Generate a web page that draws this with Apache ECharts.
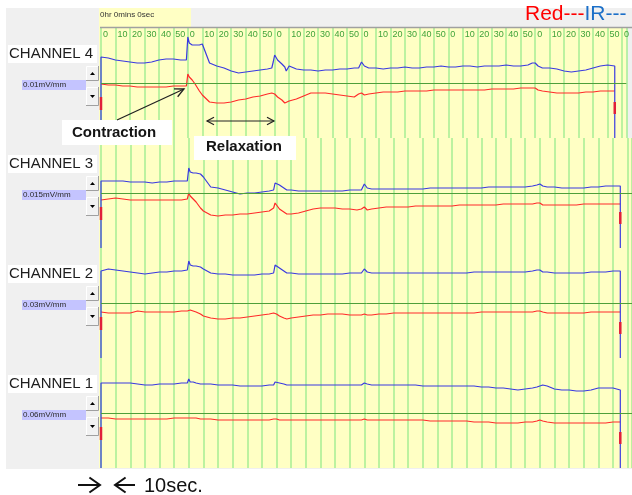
<!DOCTYPE html>
<html>
<head>
<meta charset="utf-8">
<script src="https://cdn.jsdelivr.net/npm/echarts@6/dist/echarts.min.js"></script>
<style>
  html, body { margin: 0; padding: 0; background: #ffffff; }
  #chart { width: 632px; height: 495px; }
</style>
</head>
<body>
<div id="chart"></div>
<script>
// Sample times (seconds from start of recording)
const timeSec = [
  0, 5, 10, 15, 20, 25, 30, 35, 40, 45, 50, 55,
  59, 60, 61, 63, 65, 68, 70,
  75, 80, 85, 90, 95, 100, 105, 110, 115,
  118, 119, 120, 122, 125, 127, 128, 130,
  135, 140, 145, 150, 155, 160, 165, 170, 175,
  178, 180, 182, 185,
  190, 195, 200, 205, 210, 215, 220, 225, 230, 235, 240, 245, 250, 255, 260, 265, 270, 275, 280, 285, 290, 295,
  298, 300, 302, 305,
  310, 315, 320, 325, 330, 335, 340, 345, 350, 355
];

// Channel 4 traces (deflection from channel baseline)
const ch4Ir = [
  26, 25, 23, 22, 21, 20, 20, 21, 23, 24, 24, 23,
  23, 46, 40, 38, 38, 38, 39,
  20, 17, 15, 12, 10, 11, 12, 13, 14,
  15, 21, 28, 23, 19, 16, 12, 17,
  14, 13, 13, 12, 13, 13, 14, 14, 15,
  15, 21, 17, 15,
  15, 14, 15, 15, 16, 15, 15, 16, 16, 17, 16, 16, 17, 17, 16, 17, 17, 17, 18, 17, 17, 18,
  20, 20, 17, 15,
  15, 14, 12, 11, 12, 13, 15, 17, 18, 17
];
const ch4Red = [
  -1, -2, -2, -3, -3, -4, -4, -4, -4, -4, -3, -3,
  -3, 9, 6, 3, -1, -8, -12,
  -19, -20, -20, -19, -17, -16, -14, -13, -11,
  -10, -9, -11, -14, -17, -20, -20, -18,
  -16, -13, -10, -10, -10, -11, -12, -13, -14,
  -11, -10, -12, -11,
  -10, -9, -9, -9, -8, -8, -8, -8, -7, -7, -7, -7, -7, -7, -7, -7, -6, -6, -6, -6, -5, -5,
  -5, -5, -7, -8,
  -9, -10, -10, -10, -10, -9, -9, -8, -8, -8
];

// Channel 3 traces
const ch3Ir = [
  12, 12, 12, 12, 11, 11, 11, 10, 11, 11, 12, 12,
  12, 25, 21, 20, 20, 19, 16,
  6, 5, 3, 1, -1, 0, 0, 1, 2,
  3, 10, 12, 8, 5, 3, 5, 3,
  2, 2, 2, 2, 2, 2, 2, 3, 3,
  3, 9, 5, 4,
  4, 4, 4, 4, 4, 4, 4, 5, 5, 5, 5, 5, 5, 5, 5, 6, 6, 6, 6, 6, 6, 7,
  8, 9, 7, 6,
  6, 5, 5, 5, 5, 6, 6, 7, 7, 7
];
const ch3Red = [
  -7, -6, -5, -6, -7, -7, -7, -7, -7, -7, -7, -7,
  -6, 0, -3, -6, -9, -15, -18,
  -22, -23, -22, -22, -21, -21, -20, -19, -18,
  -15, -10, -12, -16, -19, -21, -22, -21,
  -20, -18, -16, -15, -15, -15, -16, -16, -17,
  -16, -14, -17, -16,
  -15, -14, -14, -14, -14, -13, -13, -13, -13, -13, -13, -12, -12, -12, -12, -12, -12, -11, -11, -11, -11, -11,
  -10, -10, -12, -12,
  -12, -12, -12, -12, -11, -11, -11, -11, -11, -11
];

// Channel 2 traces
const ch2Ir = [
  32, 34, 33, 32, 31, 30, 29, 30, 31, 31, 32, 32,
  33, 42, 38, 37, 37, 36, 34,
  30, 29, 29, 28, 28, 28, 28, 29, 29,
  30, 38, 40, 35, 32, 30, 29, 30,
  29, 29, 29, 29, 29, 29, 29, 30, 30,
  30, 34, 31, 30,
  30, 30, 30, 30, 30, 30, 30, 30, 30, 30, 30, 30, 30, 31, 31, 31, 31, 31, 31, 31, 31, 32,
  33, 33, 31, 31,
  30, 30, 30, 30, 30, 31, 31, 31, 32, 32
];
const ch2Red = [
  -9, -10, -10, -10, -10, -8, -9, -9, -9, -9, -9, -8,
  -8, -6, -7, -8, -9, -11, -13,
  -15, -16, -16, -15, -15, -14, -13, -12, -11,
  -10, -9, -11, -13, -15, -16, -16, -15,
  -14, -13, -12, -12, -11, -11, -11, -12, -12,
  -12, -11, -12, -12,
  -11, -11, -10, -10, -10, -10, -10, -10, -10, -10, -10, -10, -10, -10, -9, -9, -9, -9, -9, -9, -9, -9,
  -8, -8, -9, -10,
  -10, -10, -10, -10, -10, -9, -9, -9, -9, -9
];

// Channel 1 traces
const ch1Ir = [
  30, 30, 30, 30, 30, 29, 28, 28, 29, 29, 29, 30,
  30, 34, 31, 31, 30, 29, 29,
  29, 28, 28, 28, 27, 27, 27, 27, 28,
  28, 31, 32, 30, 29, 28, 28, 28,
  28, 28, 28, 28, 28, 28, 28, 28, 28,
  28, 30, 29, 28,
  28, 28, 28, 28, 28, 28, 27, 27, 27, 27, 27, 27, 27, 27, 26, 26, 25, 25, 24, 23, 24, 25,
  26, 27, 28, 27,
  24, 23, 23, 22, 22, 23, 25, 25, 25, 23
];
const ch1Red = [
  -5, -5, -6, -6, -6, -6, -6, -6, -6, -6, -5, -5,
  -5, -4, -5, -5, -5, -6, -6,
  -6, -7, -7, -7, -7, -7, -7, -7, -7,
  -6, -5, -6, -7, -7, -7, -7, -7,
  -7, -7, -7, -7, -7, -7, -7, -7, -7,
  -7, -6, -7, -7,
  -7, -7, -7, -7, -7, -7, -7, -8, -8, -8, -8, -8, -8, -9, -9, -9, -10, -10, -10, -10, -9, -9,
  -8, -7, -8, -9,
  -10, -10, -10, -10, -10, -10, -10, -10, -9, -9
];

// Red pen markers at start and end of sweep
const penMarkStart = [-14, -27];
const penMarkEnd = [-19, -31];

const channelNames = ['CHANNEL 4', 'CHANNEL 3', 'CHANNEL 2', 'CHANNEL 1'];
const channelScales = ['0.01mV/mm', '0.015mV/mm', '0.03mV/mm', '0.06mV/mm'];
const irTraces = [ch4Ir, ch3Ir, ch2Ir, ch1Ir];
const redTraces = [ch4Red, ch3Red, ch2Red, ch1Red];

// Display geometry
const PLOT_LEFT = 101, PLOT_TOP = 28, STRIP_H = 110;
const Y_MIN = -55, Y_MAX = 55;
const X_MAX = 363;

const IR_COLOR = '#3a3ae0';
const RED_COLOR = '#ff2a2a';
const GRID_GREEN = '#a6ee94';
const BASE_GREEN = '#4f9f3a';

const chart = echarts.init(document.getElementById('chart'), null, { renderer: 'canvas' });

const grids = [], xAxes = [], yAxes = [], series = [];
const lastT = timeSec[timeSec.length - 1];

channelNames.forEach((name, i) => {
  grids.push({
    left: PLOT_LEFT, width: 632 - PLOT_LEFT, top: PLOT_TOP + i * STRIP_H, height: STRIP_H,
    show: true, backgroundColor: '#ffffc4', borderWidth: 0
  });
  xAxes.push({
    gridIndex: i, type: 'value', min: 0, max: X_MAX, interval: 10,
    position: 'top',
    axisLine: { show: false }, axisTick: { show: false },
    splitLine: { show: true, lineStyle: { color: GRID_GREEN, width: 1.5 } },
    axisLabel: i === 0 ? {
      show: true, inside: true, margin: 2, align: 'left', padding: [0, 0, 0, 2],
      color: '#3fa33a', fontSize: 9, fontFamily: 'Liberation Sans',
      formatter: v => String(v % 60)
    } : { show: false }
  });
  yAxes.push({
    gridIndex: i, type: 'value', min: Y_MIN, max: Y_MAX,
    axisLine: { show: false }, axisTick: { show: false },
    axisLabel: { show: false }, splitLine: { show: false }
  });

  const redData = timeSec.map((t, k) => [t, redTraces[i][k]]);
  series.push({
    type: 'line', xAxisIndex: i, yAxisIndex: i, data: redData,
    symbol: 'none', z: 3,
    lineStyle: { color: RED_COLOR, width: 1.2 },
    markLine: {
      silent: true, symbol: 'none', label: { show: false },
      lineStyle: { color: BASE_GREEN, width: 1, type: 'solid' },
      data: [{ yAxis: 0 }]
    }
  });

  // IR sweep: pen rises from the strip floor and returns there at the end
  const irData = [[0, Y_MIN]].concat(timeSec.map((t, k) => [t, irTraces[i][k]]), [[lastT, Y_MIN]]);
  series.push({
    type: 'line', xAxisIndex: i, yAxisIndex: i, data: irData,
    symbol: 'none', z: 4,
    lineStyle: { color: IR_COLOR, width: 1.2 }
  });

  series.push({
    type: 'line', xAxisIndex: i, yAxisIndex: i,
    data: [[0, penMarkStart[0]], [0, penMarkStart[1]]],
    symbol: 'none', z: 5, lineStyle: { color: '#e0203a', width: 2.5 }
  });
  series.push({
    type: 'line', xAxisIndex: i, yAxisIndex: i,
    data: [[lastT, penMarkEnd[0]], [lastT, penMarkEnd[1]]],
    symbol: 'none', z: 5, lineStyle: { color: '#e0203a', width: 2.5 }
  });
});

// Side panel, header and annotation graphics
const g = [];
g.push({ type: 'rect', z: -10, shape: { x: 6, y: 8, width: 626, height: 461 }, style: { fill: '#f0f0f0' } });
g.push({ type: 'rect', z: -9, shape: { x: 99, y: 28, width: 3, height: 440 }, style: { fill: '#ffffc4' } });
g.push({ type: 'rect', z: 1, shape: { x: 99, y: 8, width: 92, height: 20 }, style: { fill: '#ffffc4' } });
g.push({ type: 'text', z: 2, x: 100, y: 15, style: { text: '0hr 0mins 0sec', fill: '#333', font: '8px "Liberation Sans"', textVerticalAlign: 'middle' } });
g.push({ type: 'line', z: 2, shape: { x1: 100, y1: 27.5, x2: 632, y2: 27.5 }, style: { stroke: '#a0a0a0', lineWidth: 1.5 } });

g.push({
  type: 'text', z: 2, x: 525, y: 14,
  style: {
    text: '{r|Red---}{b|IR---}', textVerticalAlign: 'middle',
    rich: {
      r: { fill: '#ff0000', font: '21px "Liberation Sans"' },
      b: { fill: '#1b6fc8', font: '21px "Liberation Sans"' }
    }
  }
});

channelNames.forEach((name, i) => {
  const b = PLOT_TOP + i * STRIP_H + STRIP_H / 2;
  g.push({ type: 'rect', z: 1, shape: { x: 8, y: b - 38, width: 89, height: 18 }, style: { fill: '#ffffff' } });
  g.push({ type: 'text', z: 2, x: 9, y: b - 29, style: { text: name, fill: '#1e1e1e', font: '15px "Liberation Sans"', textVerticalAlign: 'middle' } });
  g.push({ type: 'rect', z: 1, shape: { x: 22, y: b - 3, width: 64, height: 10 }, style: { fill: '#c4c4ff' } });
  g.push({ type: 'text', z: 2, x: 23, y: b + 2, style: { text: channelScales[i], fill: '#2a2a2a', font: '8px "Liberation Sans"', textVerticalAlign: 'middle' } });
  // spinner buttons
  [[b - 17, 15, 'up'], [b + 4, 19, 'down']].forEach(([y0, h, dir]) => {
    g.push({ type: 'rect', z: 1, shape: { x: 86, y: y0, width: 12, height: h }, style: { fill: '#f2f2f2' } });
    g.push({ type: 'polyline', z: 2, shape: { points: [[86.5, y0 + h], [86.5, y0 + 0.5], [98, y0 + 0.5]] }, style: { stroke: '#ffffff', lineWidth: 1, fill: null } });
    g.push({ type: 'polyline', z: 2, shape: { points: [[86, y0 + h - 0.5], [98.5, y0 + h - 0.5], [98.5, y0]] }, style: { stroke: '#a0a0a0', lineWidth: 1, fill: null } });
    const cy = y0 + h / 2;
    const pts = dir === 'up' ? [[90, cy + 1.5], [95, cy + 1.5], [92.5, cy - 1.5]] : [[90, cy - 1.5], [95, cy - 1.5], [92.5, cy + 1.5]];
    g.push({ type: 'polygon', z: 2, shape: { points: pts }, style: { fill: '#000' } });
  });
});

function arrowHead(x, y, ang, len, spread) {
  return [
    [x - len * Math.cos(ang - spread), y - len * Math.sin(ang - spread)],
    [x, y],
    [x - len * Math.cos(ang + spread), y - len * Math.sin(ang + spread)]
  ];
}

// Contraction label and pointer
g.push({ type: 'rect', z: 6, shape: { x: 62, y: 120, width: 110, height: 25 }, style: { fill: '#ffffff' } });
g.push({ type: 'text', z: 7, x: 72, y: 133, style: { text: 'Contraction', fill: '#141414', font: 'bold 15px "Liberation Sans"', textVerticalAlign: 'middle' } });
{
  const x1 = 117, y1 = 120, x2 = 184, y2 = 89;
  const ang = Math.atan2(y2 - y1, x2 - x1);
  g.push({ type: 'line', z: 6, shape: { x1, y1, x2, y2 }, style: { stroke: '#222', lineWidth: 1.3 } });
  g.push({ type: 'polyline', z: 6, shape: { points: arrowHead(x2, y2, ang, 10, 0.45) }, style: { stroke: '#222', lineWidth: 1.3, fill: null } });
}

// Relaxation label and span arrow
g.push({ type: 'rect', z: 6, shape: { x: 194, y: 136, width: 102, height: 24 }, style: { fill: '#ffffff' } });
g.push({ type: 'text', z: 7, x: 206, y: 147, style: { text: 'Relaxation', fill: '#141414', font: 'bold 15px "Liberation Sans"', textVerticalAlign: 'middle' } });
g.push({ type: 'line', z: 6, shape: { x1: 207, y1: 121, x2: 274, y2: 121 }, style: { stroke: '#222', lineWidth: 1.2 } });
g.push({ type: 'polyline', z: 6, shape: { points: arrowHead(274, 121, 0, 8, 0.5) }, style: { stroke: '#222', lineWidth: 1.2, fill: null } });
g.push({ type: 'polyline', z: 6, shape: { points: arrowHead(207, 121, Math.PI, 8, 0.5) }, style: { stroke: '#222', lineWidth: 1.2, fill: null } });

// 10-second scale marker below the plot
g.push({ type: 'line', z: 2, shape: { x1: 78, y1: 485, x2: 99, y2: 485 }, style: { stroke: '#111', lineWidth: 2 } });
g.push({ type: 'polyline', z: 2, shape: { points: arrowHead(100, 485, 0, 13, 0.62) }, style: { stroke: '#111', lineWidth: 2, fill: null } });
g.push({ type: 'line', z: 2, shape: { x1: 116, y1: 485, x2: 135, y2: 485 }, style: { stroke: '#111', lineWidth: 2 } });
g.push({ type: 'polyline', z: 2, shape: { points: arrowHead(115, 485, Math.PI, 13, 0.62) }, style: { stroke: '#111', lineWidth: 2, fill: null } });
g.push({ type: 'text', z: 2, x: 144, y: 486, style: { text: '10sec.', fill: '#111', font: '20px "Liberation Sans"', textVerticalAlign: 'middle' } });

chart.setOption({
  animation: false,
  backgroundColor: '#ffffff',
  grid: grids,
  xAxis: xAxes,
  yAxis: yAxes,
  series: series,
  graphic: { elements: g }
});
</script>
</body>
</html>
